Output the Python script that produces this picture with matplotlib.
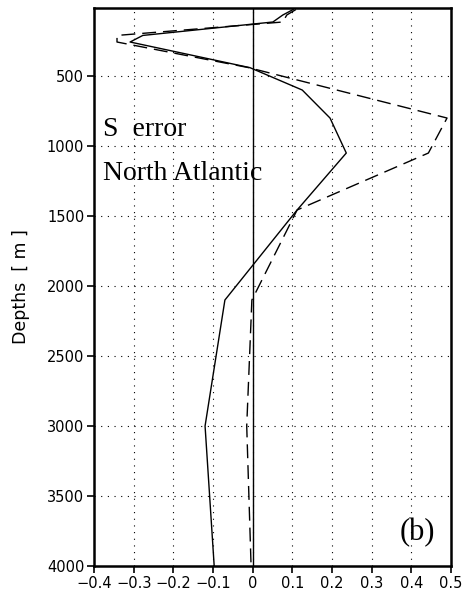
import numpy as np
import matplotlib
matplotlib.use("Agg")
import matplotlib.pyplot as plt

# salinity error profiles, North Atlantic
depth = [25, 64, 114, 210, 257, 440, 600, 800, 1050, 1457, 2100, 3000, 4000]
s_err_solid = [0.102, 0.076, 0.051, -0.277, -0.309, -0.007, 0.125, 0.195, 0.236, 0.112, -0.07, -0.12, -0.097]
s_err_dashed = [0.109, 0.086, 0.076, -0.342, -0.342, -0.01, 0.212, 0.49, 0.443, 0.112, -0.002, -0.015, -0.004]

xticks = [-0.4, -0.3, -0.2, -0.1, 0, 0.1, 0.2, 0.3, 0.4, 0.5]
xlabels = ["\u22120.4", "\u22120.3", "\u22120.2", "\u22120.1", "0", "0.1", "0.2", "0.3", "0.4", "0.5"]
yticks = [500, 1000, 1500, 2000, 2500, 3000, 3500, 4000]

W, H = 467, 594
fig = plt.figure(figsize=(W / 100, H / 100), dpi=100)
ax = fig.add_axes([94 / W, 1 - 566 / H, (451 - 94) / W, (566 - 8) / H])

# dotted grid at interior ticks
for x in xticks[1:-1]:
    ax.axvline(x, color="black", lw=0.8, ls=(0, (1, 5)), zorder=1)
for y in yticks[:-1]:
    ax.axhline(y, color="black", lw=0.8, ls=(0, (1, 5)), zorder=1)
ax.axvline(0, color="black", lw=1.0, zorder=2)

ax.plot(s_err_solid, depth, color="black", lw=1.0, zorder=3)
ax.plot(s_err_dashed, depth, color="black", lw=1.0, dashes=(10, 5), zorder=3)

ax.set_xlim(-0.4, 0.5)
ax.set_ylim(4000, 14)
ax.set_xticks(xticks)
ax.set_xticklabels(xlabels)
ax.set_yticks(yticks)
ax.tick_params(direction="out", length=5, width=1.2, labelsize=10.5, pad=2)
ax.tick_params(top=False, right=False)
for s in ax.spines.values():
    s.set_linewidth(1.8)

ax.set_ylabel("Depths  [ m ]", fontsize=12.5, labelpad=12)

serif = "Liberation Serif"
fig.text(103 / W, 1 - 136 / H, "S  error", fontsize=20, family=serif)
fig.text(103 / W, 1 - 180 / H, "North Atlantic", fontsize=20, family=serif)
ax.text(0.46, 3760, "(b)", fontsize=22, family=serif, ha="right", va="center")

fig.savefig("out.png", dpi=100)
